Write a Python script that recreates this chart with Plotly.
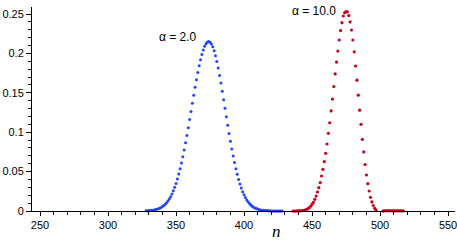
import plotly.graph_objects as go

# ---- data ----
blue_n = list(range(328, 429))
blue_p = [
    0.0003, 0.0004, 0.0005, 0.0006, 0.0008, 0.0011, 0.0014, 0.0018, 0.0023, 0.0029,
    0.0036, 0.0045, 0.0056, 0.0070, 0.0085, 0.0104, 0.0126, 0.0152, 0.0182, 0.0216,
    0.0256, 0.0300, 0.0350, 0.0406, 0.0468, 0.0535, 0.0609, 0.0688, 0.0775, 0.0865,
    0.0959, 0.1058, 0.1160, 0.1263, 0.1366, 0.1469, 0.1569, 0.1666, 0.1758, 0.1843,
    0.1920, 0.1987, 0.2044, 0.2090, 0.2123, 0.2143, 0.2150,
    0.2143, 0.2120, 0.2084, 0.2034, 0.1971, 0.1897, 0.1814, 0.1721, 0.1623, 0.1519,
    0.1413, 0.1304, 0.1196, 0.1089, 0.0984, 0.0884, 0.0788, 0.0698, 0.0614, 0.0536,
    0.0465, 0.0401, 0.0342, 0.0291, 0.0245, 0.0206, 0.0171, 0.0141, 0.0116, 0.0094,
    0.0076, 0.0061, 0.0049, 0.0039, 0.0031, 0.0024, 0.0019, 0.0014, 0.0011, 0.0008,
    0.0006, 0.0005, 0.0003, 0.0003, 0.0002, 0.0001, 0.0001, 0.0001, 0.0000, 0.0000,
    0.0000, 0.0000, 0.0000, 0.0000,
]

red_n = list(range(436, 518))
red_p = [
    0.0000, 0.0000, 0.0000, 0.0001, 0.0001, 0.0002, 0.0003, 0.0005, 0.0008, 0.0013,
    0.0021, 0.0030, 0.0042, 0.0060, 0.0085, 0.0110, 0.0148, 0.0190, 0.0241, 0.0296,
    0.0360, 0.0444, 0.0529, 0.0626, 0.0732, 0.0850, 0.0986, 0.1120, 0.1270, 0.1420,
    0.1580, 0.1740, 0.1890, 0.2030, 0.2170, 0.2290, 0.2390, 0.2475, 0.2517, 0.2530,
    0.2528, 0.2480, 0.2400, 0.2297, 0.2170, 0.2020, 0.1840, 0.1660, 0.1470, 0.1280,
    0.1100, 0.0910, 0.0750, 0.0590, 0.0457, 0.0347, 0.0254, 0.0174, 0.0115, 0.0070,
    0.0035, 0.0010, -0.0008, -0.0012, -0.0009, -0.0004, 0.0000, 0.0002,
    0.0003, 0.0003, 0.0004, 0.0003, 0.0003, 0.0003, 0.0002, 0.0002, 0.0003, 0.0003,
    0.0002, 0.0002, 0.0002, 0.0002,
]

x_ticks = [250, 300, 350, 400, 450, 500, 550]
y_ticks = [0, 0.05, 0.1, 0.15, 0.2, 0.25]
y_tick_text = ["0", "0.05", "0.1", "0.15", "0.2", "0.25"]

labels = ["α = 2.0", "α = 10.0"]
label_x = [351.5, 451.5]
label_y = [0.2214, 0.2538]

BLUE = "rgb(30,70,255)"
RED = "rgb(200,0,25)"
FONT = "Liberation Sans, Arial, Helvetica, sans-serif"

fig = go.Figure()
fig.add_trace(go.Scatter(x=blue_n, y=blue_p, mode="markers",
                         marker=dict(size=3, color=BLUE), cliponaxis=False,
                         showlegend=False))
fig.add_trace(go.Scatter(x=red_n, y=red_p, mode="markers",
                         marker=dict(size=3.2, color=RED), cliponaxis=False,
                         showlegend=False))

for t, xx, yy in zip(labels, label_x, label_y):
    fig.add_annotation(x=xx, y=yy, text=t, showarrow=False,
                       font=dict(family=FONT, size=12, color="black"))

fig.add_annotation(x=424, y=0, yref="y", yshift=-20, text="<i>n</i>", showarrow=False,
                   font=dict(family="Liberation Serif, Times New Roman, serif", size=17, color="black"))

fig.update_layout(
    width=457, height=243,
    margin=dict(l=32, r=2, t=7, b=32, autoexpand=False),
    paper_bgcolor="white", plot_bgcolor="white",
    font=dict(family=FONT, size=11, color="black"),
    xaxis=dict(range=[244.1, 555.1], tickvals=x_ticks, showgrid=False, zeroline=False,
               automargin=False, ticklabeloverflow="allow",
               showline=True, linecolor="black", linewidth=1,
               ticks="outside", ticklen=4, tickcolor="black",
               minor=dict(dtick=10, tick0=250, ticks="outside", ticklen=3, tickcolor="black"),
               tickfont=dict(size=11)),
    yaxis=dict(range=[0, 0.2589], tickvals=y_ticks, ticktext=y_tick_text,
               showgrid=False, zeroline=False, automargin=False, ticklabeloverflow="allow",
               showline=True, linecolor="black", linewidth=1,
               ticks="outside", ticklen=5, tickcolor="black",
               minor=dict(dtick=0.01, tick0=0, ticks="outside", ticklen=3, tickcolor="black"),
               tickfont=dict(size=11)),
)

fig.write_html("out.html",
               config={"displayModeBar": False, "staticPlot": True},
               post_script="document.body.style.margin='0px';document.body.style.overflow='hidden';")
